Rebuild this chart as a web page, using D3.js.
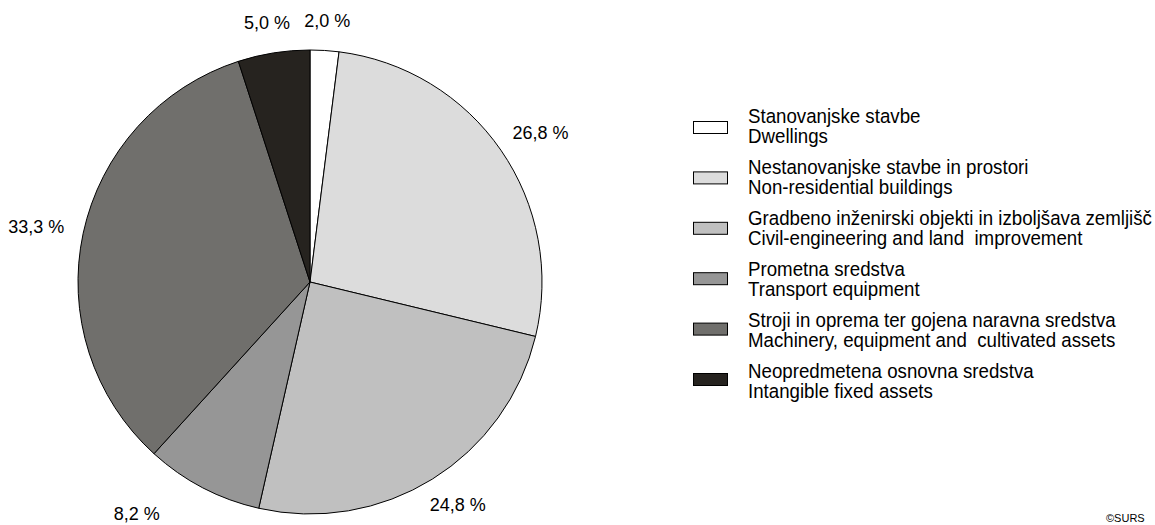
<!doctype html>
<html>
<head>
  <meta charset="utf-8">
  <script src="https://d3js.org/d3.v7.min.js"></script>
  <style>
    body { margin: 0; background: #fff; }
    svg { display: block; font-family: Arial, "Liberation Sans", sans-serif; }
    .lbl { font-size: 18px; fill: #000; }
    .leg text { font-size: 18.7px; fill: #000; }
  </style>
</head>
<body>
<script>
  // shares of investment by type, clockwise from 12 o'clock
  var namesSl = ["Stanovanjske stavbe", "Nestanovanjske stavbe in prostori",
    "Gradbeno inženirski objekti in izboljšava zemljišč", "Prometna sredstva",
    "Stroji in oprema ter gojena naravna sredstva", "Neopredmetena osnovna sredstva"];
  var namesEn = ["Dwellings", "Non-residential buildings", "Civil-engineering and land  improvement",
    "Transport equipment", "Machinery, equipment and  cultivated assets", "Intangible fixed assets"];
  var shares = [2.0, 26.8, 24.8, 8.2, 33.3, 5.0];
  var fills = ["#ffffff", "#dcdcdc", "#c0c0c0", "#969696", "#706f6c", "#26231f"];

  var W = 1155, H = 525;
  var cx = 310, cy = 282, r = 232;

  var svg = d3.select("body").append("svg")
    .attr("width", W)
    .attr("height", H);

  var data = shares.map(function (v, i) {
    return { value: v, sl: namesSl[i], en: namesEn[i], fill: fills[i] };
  });

  var pie = d3.pie().sort(null).value(function (d) { return d.value; });
  var arc = d3.arc().innerRadius(0).outerRadius(r);
  var arcs = pie(data);

  var g = svg.append("g").attr("transform", "translate(" + cx + "," + cy + ")");

  g.selectAll("path.slice")
    .data(arcs)
    .enter().append("path")
    .attr("class", "slice")
    .attr("d", arc)
    .style("fill", function (d) { return d.data.fill; })
    .style("stroke", "#000")
    .style("stroke-width", 1);

  var fmt = function (v) { return d3.format(".1f")(v).replace(".", ",") + " %"; };

  // outside-end labels: push box out along the slice bisector,
  // slide along the pie when it would fall off the bottom edge
  var R = 252, Rc = 268, maxY = H - cy - 11;
  g.selectAll("text.lbl")
    .data(arcs)
    .enter().append("text")
    .attr("class", "lbl")
    .attr("text-anchor", "middle")
    .attr("dominant-baseline", "central")
    .text(function (d) { return fmt(d.data.value); })
    .each(function (d) {
      var a = (d.startAngle + d.endAngle) / 2;
      var dx = Math.sin(a), dy = -Math.cos(a);
      var b = this.getBBox();
      var x = dx * R + dx * b.width / 2;
      var y = dy * R + dy * b.height / 2;
      if (cy + y + b.height / 2 > H - 5) {
        y = maxY;
        var yy = y - b.height / 2;
        x = (dx < 0 ? -1 : 1) * (Math.sqrt(Rc * Rc - yy * yy) + b.width / 2);
      }
      d3.select(this).attr("x", x).attr("y", y);
    });

  // legend
  var idx = d3.range(data.length);
  var boxY = d3.scalePoint().domain(idx).range([127, 379]);
  var textY = d3.scalePoint().domain(idx).range([122.5, 378]);
  var leg = svg.append("g").attr("class", "leg");

  leg.selectAll("rect")
    .data(data)
    .enter().append("rect")
    .attr("x", 693.5)
    .attr("y", function (d, i) { return boxY(i) - 5.5; })
    .attr("width", 34)
    .attr("height", 12)
    .style("fill", function (d) { return d.fill; })
    .style("stroke", "#000");

  var lines = leg.selectAll("g.txt")
    .data(data)
    .enter().append("g")
    .attr("class", "txt")
    .attr("transform", function (d, i) { return "translate(748," + textY(i) + ") scale(1,1.05)"; });

  lines.append("text")
    .attr("y", 0)
    .style("white-space", "pre")
    .text(function (d) { return d.sl; });

  lines.append("text")
    .attr("y", 19.5)
    .style("white-space", "pre")
    .text(function (d) { return d.en; });

  svg.append("text")
    .attr("x", 1106)
    .attr("y", 522)
    .style("font-size", "11px")
    .text("©SURS");
</script>
</body>
</html>
